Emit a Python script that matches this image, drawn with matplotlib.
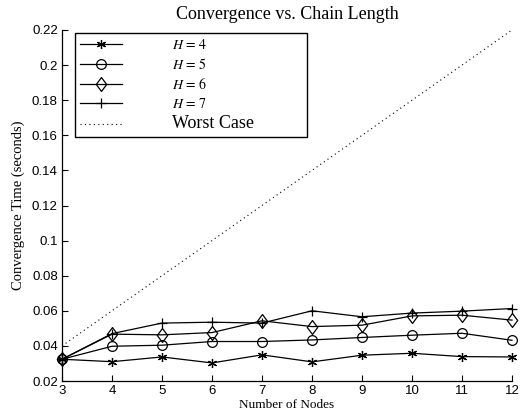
import matplotlib
matplotlib.use("Agg")
import matplotlib.pyplot as plt
from matplotlib.path import Path

nodes = [3, 4, 5, 6, 7, 8, 9, 10, 11, 12]
h4 = [0.0324, 0.0310, 0.0337, 0.0303, 0.0349, 0.0309, 0.0347, 0.0358, 0.0339, 0.0337]
h5 = [0.0324, 0.0398, 0.0404, 0.0425, 0.0425, 0.0434, 0.0448, 0.0461, 0.0472, 0.0432]
h6 = [0.0324, 0.0467, 0.0463, 0.0476, 0.0543, 0.0510, 0.0518, 0.0571, 0.0575, 0.0547]
h7 = [0.0324, 0.0470, 0.0530, 0.0535, 0.0530, 0.0600, 0.0566, 0.0587, 0.0598, 0.0613]
worst = [0.04, 0.06, 0.08, 0.10, 0.12, 0.14, 0.16, 0.18, 0.20, 0.22]
yticks = [0.02, 0.04, 0.06, 0.08, 0.1, 0.12, 0.14, 0.16, 0.18, 0.2, 0.22]
ytick_labels = ["0.02", "0.04", "0.06", "0.08", "0.1", "0.12", "0.14", "0.16", "0.18", "0.2", "0.22"]

plt.rcParams['mathtext.fontset'] = 'stix'
serif = 'Liberation Serif'
sans = 'Liberation Sans'

diamond = Path([(0, 1), (0.75, 0), (0, -1), (-0.75, 0), (0, 1)],
               [Path.MOVETO, Path.LINETO, Path.LINETO, Path.LINETO, Path.CLOSEPOLY])

fig = plt.figure(figsize=(5.24, 4.19), dpi=100)
ax = fig.add_axes([62/524, 38/419, 450/524, 351/419])

lw = 0.9
common = dict(color='black', lw=lw, clip_on=False, zorder=3)
ax.plot(nodes, h4, marker=(6, 2, 0), ms=6.5, mew=0.9, label=r'$H\,=\,4$', **common)
ax.plot(nodes, h5, marker='o', ms=7, mfc='none', mew=0.9, label=r'$H\,=\,5$', **common)
ax.plot(nodes, h6, marker=diamond, ms=10, mfc='none', mew=0.9, label=r'$H\,=\,6$', **common)
ax.plot(nodes, h7, marker='+', ms=7.5, mew=0.9, label=r'$H\,=\,7$', **common)
ax.plot(nodes, worst, color='black', lw=0.8, ls=(0, (1, 3)), label='Worst Case')

ax.set_xlim(3, 12)
ax.set_ylim(0.02, 0.22)
ax.set_xticks(nodes)
ax.set_xticklabels([str(n) for n in nodes], fontfamily=sans, fontsize=9.5)
ax.set_yticks(yticks)
ax.set_yticklabels(ytick_labels, fontfamily=sans, fontsize=9.5)
ax.tick_params(direction='in', length=4, width=0.8, pad=3)
ax.spines['top'].set_visible(False)
ax.spines['right'].set_visible(False)
for s in ('left', 'bottom'):
    ax.spines[s].set_linewidth(0.9)

ax.set_title('Convergence vs. Chain Length', fontfamily=serif, fontsize=13, pad=8)
ax.set_xlabel('Number of Nodes', fontfamily=serif, fontsize=9.5, labelpad=1)
ax.set_ylabel('Convergence Time (seconds)', fontfamily=serif, fontsize=10.5, labelpad=5)

leg = ax.legend(loc='upper left', bbox_to_anchor=(0.029, 0.698, 0.516, 0.293),
                mode='expand', borderaxespad=0, fancybox=False, framealpha=1,
                edgecolor='black', handlelength=3.0, handletextpad=3.6,
                labelspacing=0.35, fontsize=10, borderpad=0.35)
leg.get_frame().set_linewidth(1.0)
texts = leg.get_texts()
texts[4].set_fontfamily(serif)
texts[4].set_fontsize(13)

fig.savefig('out.png', dpi=100, facecolor='white')
